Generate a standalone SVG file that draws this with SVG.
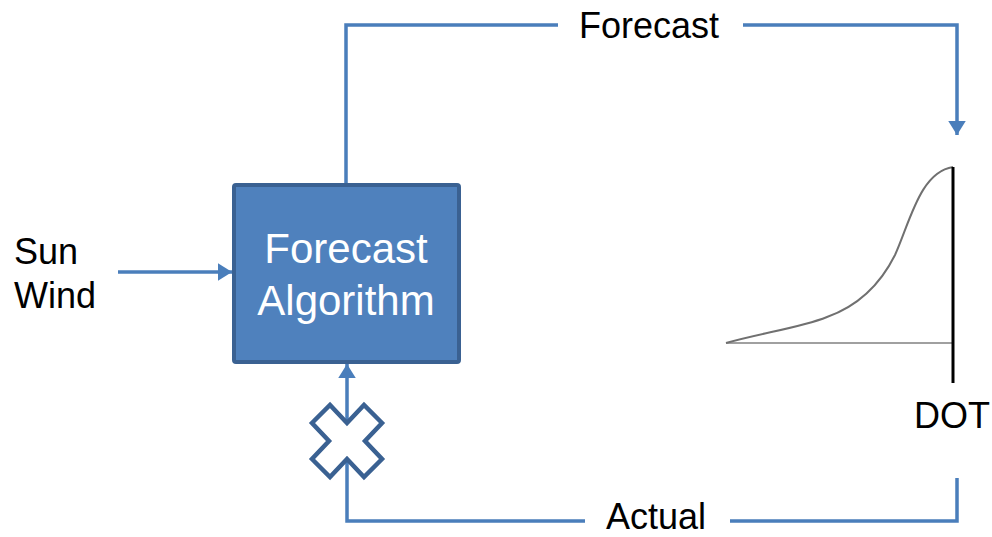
<svg xmlns="http://www.w3.org/2000/svg" width="992" height="537" viewBox="0 0 992 537">
<style>
.conn{fill:none;stroke:#4A7EBB;stroke-width:3.5}
.lbl{font-family:"Liberation Sans",Arial,sans-serif;font-size:36px;fill:#000}
.boxt{font-family:"Liberation Sans",Arial,sans-serif;font-size:42px;fill:#fff;text-anchor:middle}
</style>
<defs>
<marker id="arr" markerWidth="5" markerHeight="5" refX="4" refY="2.5" orient="auto" markerUnits="strokeWidth"><path d="M0,0 L4,2.5 L0,5 Z" fill="#4A7EBB"/></marker>
</defs>
<rect width="992" height="537" fill="#fff"/>
<g id="connectors">
<polyline class="conn" points="346,184 346,25 558,25"/>
<polyline class="conn" points="743,25 957,25 957,135" marker-end="url(#arr)"/>
<line class="conn" x1="118" y1="272" x2="232" y2="272" marker-end="url(#arr)"/>
<polyline class="conn" points="957,478 957,521 730,521"/>
<polyline class="conn" points="585,521 347,521 347,364" marker-end="url(#arr)"/>
</g>
<g id="forecast-algorithm">
<rect x="234" y="185" width="225" height="177" fill="#4F81BD" stroke="#3A6192" stroke-width="4" rx="2"/>
<text class="boxt" x="346" y="263">Forecast</text>
<text class="boxt" x="346" y="315">Algorithm</text>
</g>
<g id="block">
<polygon points="0,-18 17,-36 35,-18 18,0 35,18 17,36 0,18 -17,36 -35,18 -18,0 -35,-18 -17,-36" transform="translate(347,441)" fill="#fff" stroke="#3A6192" stroke-width="4.5" stroke-linejoin="miter"/>
</g>
<g id="inputs">
<text class="lbl" x="14" y="264">Sun</text>
<text class="lbl" x="14" y="308">Wind</text>
</g>
<g id="forecast-label"><text class="lbl" x="579" y="38">Forecast</text></g>
<g id="actual-label"><text class="lbl" x="606" y="529">Actual</text></g>
<g id="distribution">
<line x1="726" y1="343" x2="953" y2="343" stroke="#a0a0a0" stroke-width="2"/>
<path d="M726,343 C760,333 800,328 827,317 C858,306 880,285 895,255 C910,222 920,172 953,167" fill="none" stroke="#707070" stroke-width="2"/>
<line x1="953" y1="167" x2="953" y2="383" stroke="#000" stroke-width="3"/>
<text class="lbl" x="914" y="428">DOT</text>
</g>
</svg>
